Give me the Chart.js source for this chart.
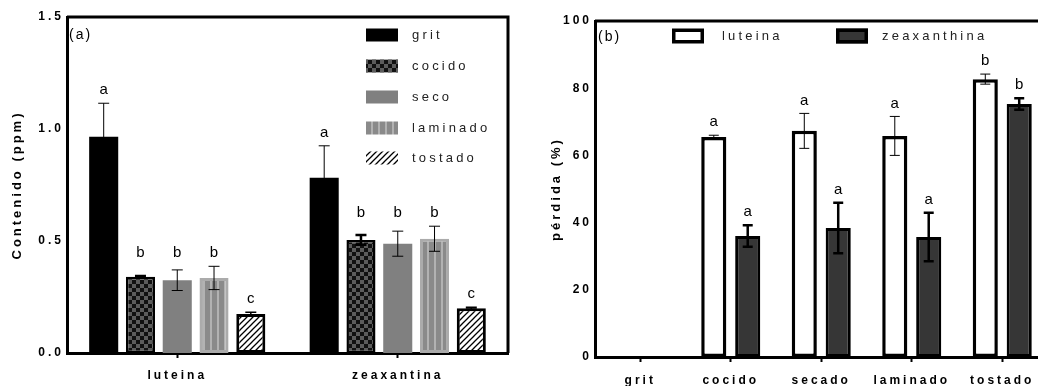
<!DOCTYPE html>
<html>
<head>
<meta charset="utf-8">
<script src="https://cdn.jsdelivr.net/npm/chart.js@4.4.1/dist/chart.umd.min.js"></script>
<style>
    html, body { margin: 0; padding: 0; background: #fff; overflow: hidden; width: 1038px; height: 386px; }
    #wrapA { position: absolute; left: 0; top: 0; }
    #wrapB { position: absolute; left: 520px; top: 0; }
</style>
</head>
<body>
<div id="wrapA"><canvas id="contenidoChart" width="520" height="386"></canvas></div>
<div id="wrapB"><canvas id="perdidaChart" width="540" height="386"></canvas></div>
<script>
// Panel (a): pigment content (ppm) per processing stage
const pigments = ['luteina', 'zeaxantina'];
const stageNames = ['grit', 'cocido', 'seco', 'laminado', 'tostado'];
const gritPpm = [0.965, 0.782];
const cocidoPpm = [0.34, 0.505];
const secoPpm = [0.325, 0.488];
const laminadoPpm = [0.335, 0.51];
const tostadoPpm = [0.174, 0.2];
const gritErr = [0.15, 0.143];
const cocidoErr = [0.004, 0.022];
const secoErr = [0.046, 0.056];
const laminadoErr = [0.052, 0.056];
const tostadoErr = [0.008, 0.004];
const gritLetters = ['a', 'a'];
const cocidoLetters = ['b', 'b'];
const secoLetters = ['b', 'b'];
const laminadoLetters = ['b', 'b'];
const tostadoLetters = ['c', 'c'];
const ppmTicks = [0, 0.5, 1.0, 1.5];

// Panel (b): loss (%) per processing stage
const processes = ['grit', 'cocido', 'secado', 'laminado', 'tostado'];
const seriesNames = ['luteina', 'zeaxanthina'];
const luteinaLoss = [null, 65.5, 67.3, 65.8, 82.7];
const zeaLoss = [null, 36.0, 38.4, 35.7, 75.3];
const luteinaLossErr = [null, 0.5, 5.2, 5.8, 1.5];
const zeaLossErr = [null, 3.2, 7.5, 7.2, 1.7];
const luteinaLetters = [null, 'a', 'a', 'a', 'b'];
const zeaLetters = [null, 'a', 'a', 'a', 'b'];
const lossTicks = [0, 20, 40, 60, 80, 100];

Chart.defaults.font.family = '"Liberation Sans", Arial, sans-serif';
Chart.defaults.color = '#000';

function makePattern(w, h, paint) {
    const c = document.createElement('canvas');
    c.width = w; c.height = h;
    const g = c.getContext('2d');
    paint(g);
    return g.createPattern(c, 'repeat');
}

const checkerFill = makePattern(8, 8, g => {
    g.fillStyle = '#111';
    g.fillRect(0, 0, 8, 8);
    g.fillStyle = '#5c5c5c';
    g.fillRect(0, 0, 4, 4);
    g.fillRect(4, 4, 4, 4);
});
const stripeFill = makePattern(7, 7, g => {
    g.fillStyle = '#8a8a8a';
    g.fillRect(0, 0, 7, 7);
    g.fillStyle = '#b2b2b2';
    g.fillRect(0, 0, 2, 7);
});
const hatchFill = makePattern(6, 6, g => {
    g.fillStyle = '#fff';
    g.fillRect(0, 0, 6, 6);
    g.strokeStyle = '#000';
    g.lineWidth = 1.3;
    g.beginPath();
    g.moveTo(-1, 7); g.lineTo(7, -1);
    g.moveTo(-1, 1); g.lineTo(1, -1);
    g.moveTo(5, 7); g.lineTo(7, 5);
    g.stroke();
});

// error bars plus significance letters above them
const errorBarsPlugin = {
    id: 'errorBars',
    afterDatasetsDraw(chart, args, opts) {
        const ctx = chart.ctx;
        const y = chart.scales.y;
        const tops = [];
        chart.data.datasets.forEach((ds, di) => {
            const meta = chart.getDatasetMeta(di);
            tops[di] = [];
            meta.data.forEach((bar, i) => {
                const v = ds.data[i];
                if (v == null) return;
                const e = ds.errors[i];
                const yTop = y.getPixelForValue(v + e);
                const yBot = y.getPixelForValue(v - e);
                tops[di][i] = yTop;
                ctx.save();
                ctx.strokeStyle = '#000';
                ctx.lineWidth = ds.errWidth;
                ctx.beginPath();
                ctx.moveTo(bar.x, yTop); ctx.lineTo(bar.x, yBot);
                ctx.moveTo(bar.x - opts.cap, yTop); ctx.lineTo(bar.x + opts.cap, yTop);
                ctx.moveTo(bar.x - opts.cap, yBot); ctx.lineTo(bar.x + opts.cap, yBot);
                ctx.stroke();
                ctx.restore();
            });
        });
        ctx.save();
        ctx.letterSpacing = '0px';
        ctx.font = '15px "Liberation Sans", Arial, sans-serif';
        ctx.fillStyle = '#000';
        ctx.textAlign = 'center';
        ctx.textBaseline = 'middle';
        chart.data.datasets.forEach((ds, di) => {
            const meta = chart.getDatasetMeta(di);
            meta.data.forEach((bar, i) => {
                const letter = ds.letters[i];
                if (!letter) return;
                let top = tops[di][i];
                if (opts.align) {
                    chart.data.datasets.forEach((other, oi) => {
                        if (other.letters[i] === letter) top = Math.min(top, tops[oi][i]);
                    });
                }
                ctx.fillText(letter, bar.x, top - opts.gap);
            });
        });
        ctx.restore();
    }
};

// top and right edges of the plot box, panel tag and legend
const framePlugin = {
    id: 'frame',
    beforeDraw(chart) {
        chart.ctx.letterSpacing = '3px';
    },
    afterDraw(chart, args, opts) {
        const ctx = chart.ctx;
        const a = chart.chartArea;
        ctx.save();
        ctx.strokeStyle = '#000';
        ctx.lineWidth = 3;
        ctx.beginPath();
        ctx.moveTo(a.left, a.top);
        ctx.lineTo(a.right, a.top);
        ctx.lineTo(a.right, a.bottom);
        ctx.stroke();

        ctx.fillStyle = '#000';
        ctx.textBaseline = 'middle';
        ctx.textAlign = 'left';
        ctx.letterSpacing = '2px';
        ctx.font = '14px "Liberation Sans", Arial, sans-serif';
        ctx.fillText(opts.tag, opts.tagX, opts.tagY);

        ctx.letterSpacing = '3.2px';
        ctx.font = '13px "Liberation Sans", Arial, sans-serif';
        chart.data.datasets.forEach((ds, i) => {
            const bx = opts.boxX[i];
            const cy = opts.rowY[i];
            const bw = opts.boxW, bh = opts.boxH;
            ctx.fillStyle = ds.backgroundColor;
            ctx.fillRect(bx, cy - bh / 2, bw, bh);
            if (opts.boxBorder) {
                ctx.strokeStyle = ds.borderColor;
                ctx.lineWidth = opts.boxBorder;
                ctx.strokeRect(bx + opts.boxBorder / 2, cy - bh / 2 + opts.boxBorder / 2,
                    bw - opts.boxBorder, bh - opts.boxBorder);
            }
            ctx.fillStyle = '#222';
            ctx.fillText(ds.label, opts.textX[i], cy);
        });
        ctx.restore();
    }
};

function makeDataset(label, data, errors, letters, fill, border, borderWidth, errWidth) {
    return {
        label: label,
        data: data,
        errors: errors,
        letters: letters,
        backgroundColor: fill,
        borderColor: border,
        borderWidth: borderWidth,
        borderSkipped: false,
        errWidth: errWidth
    };
}

const axisTickFont = { size: 12, weight: 'bold' };
const axisTitleFont = { size: 13, weight: 'bold' };

new Chart(document.getElementById('contenidoChart'), {
    type: 'bar',
    data: {
        labels: pigments,
        datasets: [
            makeDataset(stageNames[0], gritPpm, gritErr, gritLetters, '#000', '#000', 0, 1),
            makeDataset(stageNames[1], cocidoPpm, cocidoErr, cocidoLetters, checkerFill, '#000', 2.5, 2.5),
            makeDataset(stageNames[2], secoPpm, secoErr, secoLetters, '#808080', '#808080', 0, 1),
            makeDataset(stageNames[3], laminadoPpm, laminadoErr, laminadoLetters, stripeFill, '#ababab', 3, 1),
            makeDataset(stageNames[4], tostadoPpm, tostadoErr, tostadoLetters, hatchFill, '#000', 3, 1.5)
        ]
    },
    options: {
        responsive: false,
        animation: false,
        events: [],
        categoryPercentage: 0.834,
        barPercentage: 0.79,
        layout: { padding: { top: 17, right: 12, left: 0, bottom: 0 } },
        plugins: {
            legend: { display: false },
            tooltip: { enabled: false },
            errorBars: { cap: 5.5, gap: 13, align: true },
            frame: {
                tag: '(a)', tagX: 69, tagY: 35,
                boxX: [366, 366, 366, 366, 366],
                rowY: [35, 66, 97, 128, 158],
                textX: [412, 412, 412, 412, 412],
                boxW: 32, boxH: 13, boxBorder: 0
            }
        },
        scales: {
            x: {
                afterFit: s => { s.height = 33; },
                border: { display: true, color: '#000', width: 3 },
                grid: { display: true, offset: false, drawOnChartArea: false, drawTicks: true, tickLength: 5, tickWidth: 2, tickColor: '#000' },
                ticks: { font: axisTickFont, color: '#000', padding: 10 }
            },
            y: {
                min: 0,
                max: 1.5,
                afterFit: s => { s.width = 67; },
                afterBuildTicks: s => { s.ticks = ppmTicks.map(v => ({ value: v })); },
                border: { display: true, color: '#000', width: 3 },
                grid: { display: false, drawTicks: false },
                ticks: { font: axisTickFont, color: '#000', padding: 3, callback: v => v.toFixed(1) },
                title: { display: true, text: 'Contenido (ppm)', font: axisTitleFont, color: '#000', padding: { top: 10, bottom: 0 } }
            }
        }
    },
    plugins: [errorBarsPlugin, framePlugin]
});

new Chart(document.getElementById('perdidaChart'), {
    type: 'bar',
    data: {
        labels: processes,
        datasets: [
            makeDataset(seriesNames[0], luteinaLoss, luteinaLossErr, luteinaLetters, '#fff', '#000', 3.5, 1),
            makeDataset(seriesNames[1], zeaLoss, zeaLossErr, zeaLetters, '#363636', '#000', 3, 2.5)
        ]
    },
    options: {
        responsive: false,
        animation: false,
        events: [],
        categoryPercentage: 0.75,
        barPercentage: 0.74,
        layout: { padding: { top: 21, right: 12.5, left: 0, bottom: 0 } },
        plugins: {
            legend: { display: false },
            tooltip: { enabled: false },
            errorBars: { cap: 5, gap: 13, align: false },
            frame: {
                tag: '(b)', tagX: 78, tagY: 37,
                boxX: [152, 316],
                rowY: [36, 36],
                textX: [202, 362],
                boxW: 32, boxH: 15, boxBorder: 3.5
            }
        },
        scales: {
            x: {
                afterFit: s => { s.height = 29; },
                border: { display: true, color: '#000', width: 3 },
                grid: { display: true, offset: false, drawOnChartArea: false, drawTicks: true, tickLength: 5, tickWidth: 2, tickColor: '#000' },
                ticks: { font: axisTickFont, color: '#000', padding: 11 }
            },
            y: {
                min: 0,
                max: 100,
                afterFit: s => { s.width = 75; },
                afterBuildTicks: s => { s.ticks = lossTicks.map(v => ({ value: v })); },
                border: { display: true, color: '#000', width: 3 },
                grid: { display: false, drawTicks: false },
                ticks: { font: axisTickFont, color: '#000', padding: 3 },
                title: { display: true, text: 'pérdida (%)', font: axisTitleFont, color: '#000', padding: { top: 29, bottom: 0 } }
            }
        }
    },
    plugins: [errorBarsPlugin, framePlugin]
});
</script>
</body>
</html>
